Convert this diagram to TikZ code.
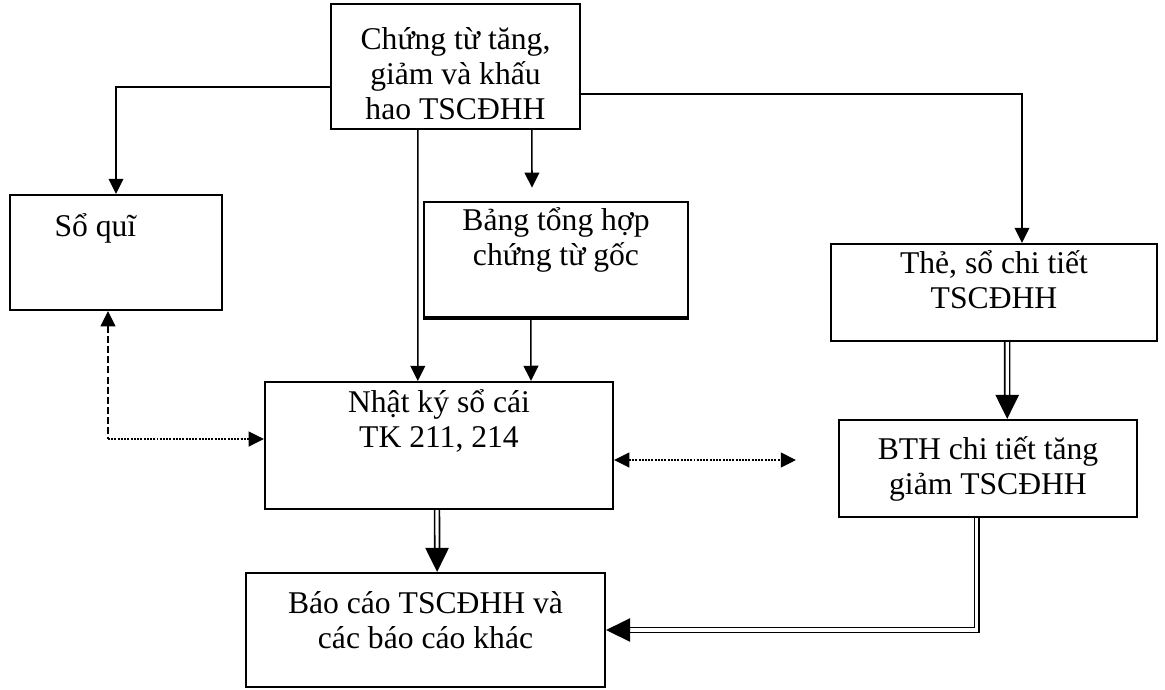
\documentclass[tikz,border=0pt]{standalone}
\usepackage{fontspec}
\setmainfont{Liberation Serif}
\usetikzlibrary{arrows.meta}
\lineskiplimit=-30pt
\newcommand{\lnup}{\rule{0pt}{1em}}

\begin{document}
\begin{tikzpicture}[thick, font=\fontsize{22.5pt}{25pt}\selectfont,
    box/.style={draw, line width=1.5pt, inner sep=0pt},
    txt/.style={anchor=north, align=center, inner sep=0pt},
    arr/.style={line width=1.1pt, -{Triangle[length=0.38cm, width=0.37cm]}},
    darr/.style={double, double distance=2.2pt, line width=1.2pt, -{Triangle[length=0.6cm, width=0.58cm]}},
    dashline/.style={line width=1pt, dash pattern=on 5pt off 2.2pt},
    dotline/.style={line width=1.2pt, dash pattern=on 1.4pt off 0.9pt}]

    \useasboundingbox (0,0) rectangle (29.125,-17.225);

    \node[box, minimum width=6.225cm, minimum height=3.125cm, label={[txt, yshift=-10.2pt]north:\lnup Chứng từ tăng,\\giảm và khấu\\hao TSCĐHH}] at (11.3875,-1.6625) (CT) {};
    \node[box, minimum width=5.3cm, minimum height=2.875cm, label={[txt, anchor=north west, xshift=1.125cm, yshift=-7.4pt]north west:\lnup Sổ quĩ}] at (2.9,-6.3125) (SQ) {};
    \node[box, minimum width=6.6cm, minimum height=2.875cm, label={[txt, yshift=1.9pt]north:\lnup Bảng tổng hợp\\chứng từ gốc}] at (13.9,-6.4875) (BT) {};
    \node[box, minimum width=8.15cm, minimum height=2.425cm, label={[txt, yshift=1.2pt]north:\lnup Thẻ, sổ chi tiết\\TSCĐHH}] at (24.85,-7.3125) (TS) {};
    \node[box, minimum width=8.7cm, minimum height=3.175cm, label={[txt, yshift=0.5pt]north:\lnup Nhật ký sổ cái\\TK 211, 214}] at (10.975,-11.1375) (NK) {};
    \node[box, minimum width=7.45cm, minimum height=2.425cm, label={[txt, yshift=-6pt]north:\lnup BTH chi tiết tăng\\giảm TSCĐHH}] at (24.7,-11.7125) (BTH) {};
    \node[box, minimum width=8.975cm, minimum height=2.85cm, label={[txt, yshift=-6.7pt]north:\lnup Báo cáo TSCĐHH và\\các báo cáo khác}] at (10.6375,-15.75) (BC) {};

    % heavy lower edge of the summary box
    \draw[line width=2.8pt] (BT.south west) -- (BT.south east);

    \coordinate (K) at (2.7,-10.975);
    \coordinate (E) at (19.9,-11.5);

    \draw[arr] ([yshift=-0.51cm]CT.west) -| (SQ.north);
    \draw[arr] ([xshift=-0.94cm]CT.south) -- ([xshift=-0.53cm]NK.north);
    \draw[arr] ([xshift=1.91cm]CT.south) -- ([xshift=-0.6cm, yshift=0.33cm]BT.north);
    \draw[arr] ([yshift=-0.69cm]CT.east) -| ([xshift=0.7cm]TS.north);
    \draw[arr] ([xshift=-0.63cm]BT.south) -- ([xshift=2.3cm]NK.north);

    % dashed / dotted links
    \draw[dashline, {Triangle[length=0.38cm, width=0.37cm]}-] ([xshift=-0.2cm]SQ.south) -- (K);
    \draw[dotline, -{Triangle[length=0.38cm, width=0.37cm]}] (K) -- (K -| NK.west);
    \draw[dotline, {Triangle[length=0.38cm, width=0.37cm]}-{Triangle[length=0.38cm, width=0.37cm]}] (NK.east |- E) -- (E);

    % double lines
    \draw[darr] ([xshift=-0.05cm]NK.south) -- ([xshift=0.29cm]BC.north);
    \draw[darr] ([xshift=0.33cm]TS.south) -- ([xshift=0.48cm]BTH.north);
    \draw[darr] ([xshift=-0.28cm]BTH.south) |- (BC.east);

\end{tikzpicture}
\end{document}
